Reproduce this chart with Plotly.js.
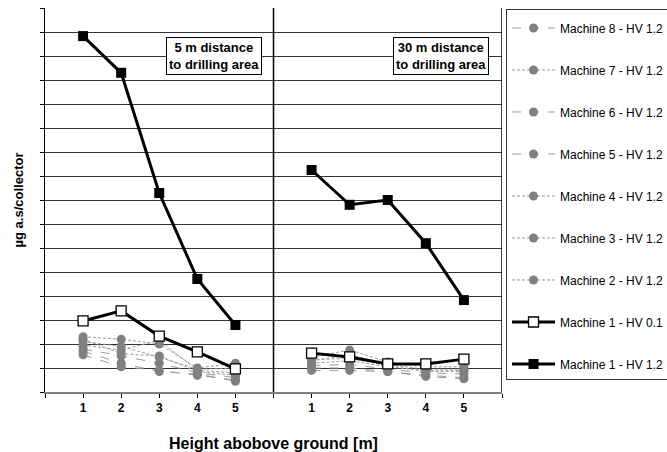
<!DOCTYPE html>
<html><head><meta charset="utf-8">
<script src="https://cdn.plot.ly/plotly-3.0.1.min.js"></script>
<style>html,body{margin:0;padding:0;background:#fff}#chart{width:667px;height:452px}</style>
</head><body><div id="chart"></div>
<script>
// Heights above ground (categories), two panels: 5 m and 30 m distance
const heights = [1, 2, 3, 4, 5];
const panels = ["5 m distance<br>to drilling area", "30 m distance<br>to drilling area"];

// values per series: [5 m panel], [30 m panel]
const m1_hv12_5m  = [14.83, 13.30, 8.29, 4.71, 2.79];
const m1_hv12_30m = [9.25, 7.80, 8.00, 6.20, 3.83];
const m1_hv01_5m  = [2.96, 3.38, 2.33, 1.67, 0.96];
const m1_hv01_30m = [1.62, 1.46, 1.17, 1.17, 1.37];
const m2_5m  = [2.30, 2.20, 2.00, 1.00, 1.20];
const m2_30m = [1.45, 1.75, 1.25, 1.05, 1.05];
const m3_5m  = [2.10, 1.90, 1.45, 0.95, 1.00];
const m3_30m = [1.30, 1.55, 1.15, 0.95, 0.95];
const m4_5m  = [1.95, 1.75, 2.15, 0.90, 0.80];
const m4_30m = [1.20, 1.30, 1.05, 0.90, 0.85];
const m5_5m  = [1.80, 1.50, 1.20, 0.80, 0.60];
const m5_30m = [1.10, 1.15, 0.95, 0.80, 0.75];
const m6_5m  = [1.70, 1.20, 0.85, 0.75, 0.45];
const m6_30m = [1.00, 1.00, 0.85, 0.70, 0.60];
const m7_5m  = [2.20, 1.60, 1.50, 0.85, 0.70];
const m7_30m = [1.35, 1.40, 1.10, 0.85, 0.90];
const m8_5m  = [1.55, 1.05, 0.90, 0.70, 0.50];
const m8_30m = [0.90, 0.90, 0.85, 0.65, 0.55];

const names = {
  m8: "Machine 8 - HV 1.2", m7: "Machine 7 - HV 1.2", m6: "Machine 6 - HV 1.2",
  m5: "Machine 5 - HV 1.2", m4: "Machine 4 - HV 1.2", m3: "Machine 3 - HV 1.2",
  m2: "Machine 2 - HV 1.2", m1a: "Machine 1 - HV 0.1", m1b: "Machine 1 - HV 1.2"
};

// combined category positions: panel 1 at 1..5, gap at 6, panel 2 at 7..11
const xs = heights.concat([null], heights.map(h => h + 6));
const tickPos = [];
const tickTxt = [];
for (let i = 0; i <= 12; i++) {
  tickPos.push(i);
  if (i >= 1 && i <= 5) tickTxt.push(String(heights[i - 1]));
  else if (i >= 7 && i <= 11) tickTxt.push(String(heights[i - 7]));
  else tickTxt.push("");
}
function join(a, b) { return a.concat([null], b); }

const gray = "#808080";
const lineGray = "#9a9a9a";
function grayTrace(name, a, b, dash, grp) {
  return {
    type: "scatter", mode: "lines+markers", name: name, legendgroup: grp,
    x: xs, y: join(a, b), connectgaps: false,
    line: { color: lineGray, width: 1, dash: dash },
    marker: { symbol: "circle", size: 9, color: gray }
  };
}

const traces = [
  grayTrace(names.m8, m8_5m, m8_30m, "dash", "g8"),
  grayTrace(names.m7, m7_5m, m7_30m, "3px,2px", "g7"),
  grayTrace(names.m6, m6_5m, m6_30m, "dash", "g6"),
  grayTrace(names.m5, m5_5m, m5_30m, "dash", "g5"),
  grayTrace(names.m4, m4_5m, m4_30m, "3px,2px", "g4"),
  grayTrace(names.m3, m3_5m, m3_30m, "3px,2px", "g3"),
  grayTrace(names.m2, m2_5m, m2_30m, "3px,2px", "g2"),
  {
    type: "scatter", mode: "lines+markers", name: names.m1a, legendgroup: "g1a",
    x: xs, y: join(m1_hv01_5m, m1_hv01_30m), connectgaps: false,
    line: { color: "#000", width: 3 },
    marker: { symbol: "square", size: 10, color: "#fff", line: { color: "#000", width: 1.3 } }
  },
  {
    type: "scatter", mode: "lines+markers", name: names.m1b, legendgroup: "g1b",
    x: xs, y: join(m1_hv12_5m, m1_hv12_30m), connectgaps: false,
    line: { color: "#000", width: 3 },
    marker: { symbol: "square", size: 10, color: "#000" }
  }
];

const font = "Arial, 'Liberation Sans', sans-serif";
const annFont = { family: font, size: 13, color: "#000" };
const layout = {
  width: 667, height: 452,
  margin: { l: 45, r: 165, t: 8, b: 60, autoexpand: false },
  paper_bgcolor: "#fff", plot_bgcolor: "#fff",
  font: { family: font, size: 12, color: "#000" },
  showlegend: true,
  legend: {
    x: 1.0088, xanchor: "left", y: 0.9985, yanchor: "top",
    traceorder: "grouped", tracegroupgap: 23,
    itemwidth: 43, bordercolor: "#333", borderwidth: 1, bgcolor: "#fff",
    title: { text: " ", font: { family: font, size: 3 } },
    font: { family: font, size: 12, color: "#000" }
  },
  xaxis: {
    range: [0, 12], tickmode: "array", tickvals: tickPos, ticktext: tickTxt,
    ticks: "outside", ticklen: 4, tickcolor: "#000", showgrid: false, zeroline: false,
    showline: true, linecolor: "#808080", linewidth: 2,
    tickfont: { family: font, size: 12, color: "#000", weight: "bold" },
    title: { text: "<b>Height abobove ground [m]</b>", font: { family: font, size: 16 }, standoff: 24 },
    automargin: false, fixedrange: true
  },
  yaxis: {
    range: [0, 16], dtick: 1, tick0: 0, showticklabels: false,
    ticks: "outside", ticklen: 4, tickcolor: "#000",
    showgrid: true, gridcolor: "#333", gridwidth: 1, zeroline: false,
    showline: true, linecolor: "#000", linewidth: 1, mirror: false,
    title: { text: "<b>µg a.s/collector</b>", font: { family: font, size: 13 }, standoff: 13 },
    automargin: false, fixedrange: true
  },
  shapes: [
    { type: "line", xref: "x", yref: "paper", x0: 6, x1: 6, y0: 0, y1: 1, line: { color: "#000", width: 1.5 } },
    { type: "line", xref: "x", yref: "paper", x0: 12, x1: 12, y0: 0, y1: 1, line: { color: "#000", width: 1.5 } }
  ],
  annotations: [
    { xref: "paper", yref: "paper", x: 0.370, y: 0.875, xanchor: "center", yanchor: "middle",
      text: "<b>" + panels[0] + "</b>", showarrow: false,
      bgcolor: "#fff", bordercolor: "#000", borderwidth: 1, borderpad: 2, align: "center", font: annFont },
    { xref: "paper", yref: "paper", x: 0.8676, y: 0.875, xanchor: "center", yanchor: "middle",
      text: "<b>" + panels[1] + "</b>", showarrow: false,
      bgcolor: "#fff", bordercolor: "#000", borderwidth: 1, borderpad: 2, align: "center", font: annFont }
  ]
};

Plotly.newPlot("chart", traces, layout, { staticPlot: true, displayModeBar: false });
</script></body></html>
